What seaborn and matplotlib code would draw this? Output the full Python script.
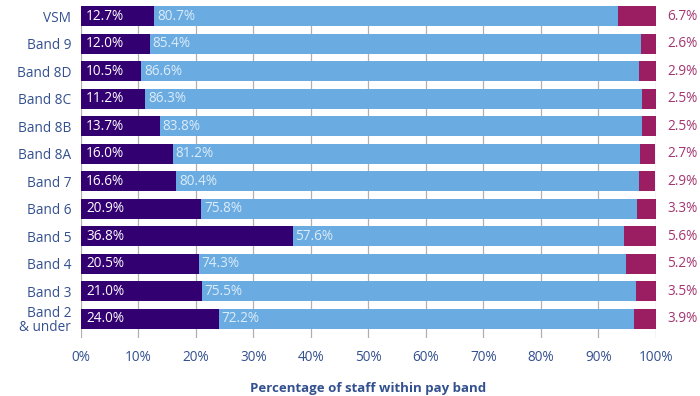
import matplotlib
matplotlib.use("Agg")
import matplotlib.pyplot as plt
import seaborn as sns
import numpy as np
import pandas as pd

bands = ["VSM", "Band 9", "Band 8D", "Band 8C", "Band 8B", "Band 8A",
         "Band 7", "Band 6", "Band 5", "Band 4", "Band 3", "Band 2\n& under"]
group_a = [12.7, 12.0, 10.5, 11.2, 13.7, 16.0, 16.6, 20.9, 36.8, 20.5, 21.0, 24.0]
group_b = [80.7, 85.4, 86.6, 86.3, 83.8, 81.2, 80.4, 75.8, 57.6, 74.3, 75.5, 72.2]
group_c = [6.7, 2.6, 2.9, 2.5, 2.5, 2.7, 2.9, 3.3, 5.6, 5.2, 3.5, 3.9]
x_ticks = [0, 10, 20, 30, 40, 50, 60, 70, 80, 90, 100]

sns.set_theme(style="white")
plt.rcParams["font.family"] = ["Open Sans", "DejaVu Sans"]

PURPLE = "#330072"
BLUE = "#6AACE2"
MAGENTA = "#9B1D62"
NAVY = "#33508F"
MAG_TEXT = "#A3356F"

df = pd.DataFrame({"band": bands, "a": group_a, "b": group_b, "c": group_c})
df["ab"] = df["a"] + df["b"]
df["abc"] = df["ab"] + df["c"]

fig = plt.figure(figsize=(7.0, 3.96), dpi=100)
ax = fig.add_axes([0.1157, 0.1465, 0.8214, 0.8384])

for x in x_ticks:
    ax.axvline(x, color="#B0B0B0", lw=0.9, zorder=0)

# Stacked bars drawn back to front as cumulative totals
for col, colour, z in (("abc", MAGENTA, 2), ("ab", BLUE, 3), ("a", PURPLE, 4)):
    sns.barplot(data=df, x=col, y="band", orient="h", color=colour,
                saturation=1, width=0.73, linewidth=0, ax=ax, zorder=z)

for i, (a, b, c) in enumerate(zip(group_a, group_b, group_c)):
    ax.text(0.9, i, f"{a:.1f}%", color="white", fontsize=9.8,
            va="center", ha="left", zorder=5)
    ax.text(a + 0.5, i, f"{b:.1f}%", color="#DCEBF8", fontsize=9.8,
            va="center", ha="left", zorder=5)
    ax.text(102.0, i, f"{c:.1f}%", color=MAG_TEXT, fontsize=9.8,
            va="center", ha="left", zorder=5, clip_on=False)

ax.set_xlim(0, 100)
ax.set_ylim(11.69, -0.365)
ax.set_xticks(x_ticks)
ax.set_xticklabels([f"{t}%" for t in x_ticks])
ax.tick_params(axis="x", length=0, pad=9, labelsize=9.8, labelcolor=NAVY)
ax.tick_params(axis="y", length=0, pad=7, labelsize=9.8, labelcolor=NAVY)
for lbl in ax.get_yticklabels():
    lbl.set_linespacing(0.95)
ax.set_ylabel("")
ax.set_xlabel("Percentage of staff within pay band", fontsize=9.5,
              fontweight="bold", color=NAVY, labelpad=12)
for s in ax.spines.values():
    s.set_visible(False)

fig.savefig("out.png", dpi=100)
